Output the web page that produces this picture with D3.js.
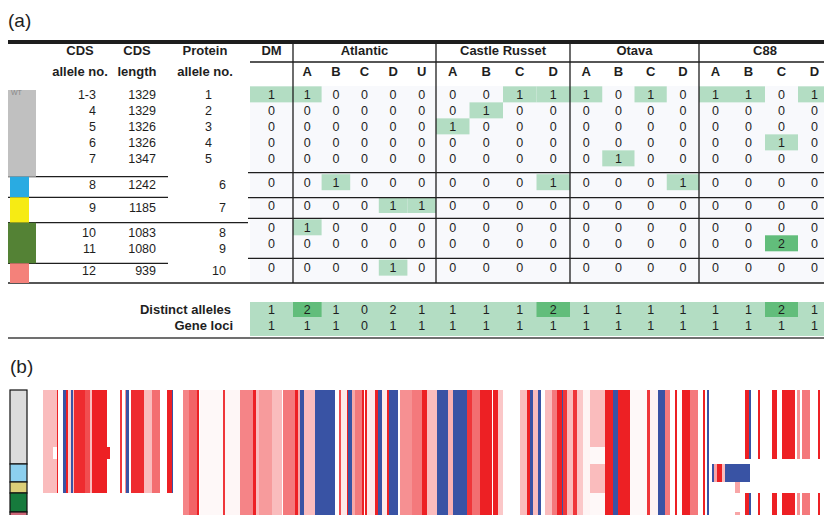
<!DOCTYPE html>
<html>
<head>
<meta charset="utf-8">
<script src="https://cdn.jsdelivr.net/npm/d3@7"></script>
<style>
  body { margin: 0; background: #fff; }
  svg { display: block; font-family: "Liberation Sans", Arial, sans-serif; }
</style>
</head>
<body>
<svg id="chart" width="824" height="515"></svg>
<script>
// ---------- panel (a) data ----------
const cultivars = ["DM", "Atlantic", "Castle Russet", "Otava", "C88"];
const haplotypes = [[""], ["A", "B", "C", "D", "U"], ["A", "B", "C", "D"], ["A", "B", "C", "D"], ["A", "B", "C", "D"]];
const cdsAllele = ["1-3", "4", "5", "6", "7", "8", "9", "10", "11", "12"];
const cdsLength = [1329, 1329, 1326, 1326, 1347, 1242, 1185, 1083, 1080, 939];
const proteinAllele = [1, 2, 3, 4, 5, 6, 7, 8, 9, 10];
const alleleGroup = [0, 0, 0, 0, 0, 1, 2, 3, 3, 4];
const groupColorsA = ["#c0c0c0", "#29abe2", "#f6eb14", "#548235", "#f4817a"];
// allele counts per haplotype column: DM | Atl A B C D U | CR A B C D | Ot A B C D | C88 A B C D
const alleleCounts = [
  [1, 1, 0, 0, 0, 0, 0, 0, 1, 1, 1, 0, 1, 0, 1, 1, 0, 1],
  [0, 0, 0, 0, 0, 0, 0, 1, 0, 0, 0, 0, 0, 0, 0, 0, 0, 0],
  [0, 0, 0, 0, 0, 0, 1, 0, 0, 0, 0, 0, 0, 0, 0, 0, 0, 0],
  [0, 0, 0, 0, 0, 0, 0, 0, 0, 0, 0, 0, 0, 0, 0, 0, 1, 0],
  [0, 0, 0, 0, 0, 0, 0, 0, 0, 0, 0, 1, 0, 0, 0, 0, 0, 0],
  [0, 0, 1, 0, 0, 0, 0, 0, 0, 1, 0, 0, 0, 1, 0, 0, 0, 0],
  [0, 0, 0, 0, 1, 1, 0, 0, 0, 0, 0, 0, 0, 0, 0, 0, 0, 0],
  [0, 1, 0, 0, 0, 0, 0, 0, 0, 0, 0, 0, 0, 0, 0, 0, 0, 0],
  [0, 0, 0, 0, 0, 0, 0, 0, 0, 0, 0, 0, 0, 0, 0, 0, 2, 0],
  [0, 0, 0, 0, 1, 0, 0, 0, 0, 0, 0, 0, 0, 0, 0, 0, 0, 0]
];
const distinctAlleles = [1, 2, 1, 0, 2, 1, 1, 1, 1, 2, 1, 1, 1, 1, 1, 1, 2, 1];
const distinctDark = [0, 1, 0, 0, 0, 0, 0, 0, 0, 1, 0, 0, 0, 0, 0, 0, 1, 0];
const geneLoci = [1, 1, 1, 0, 1, 1, 1, 1, 1, 1, 1, 1, 1, 1, 1, 1, 1, 1];

// ---------- panel (b) data ----------
// alignment sites; stripes are [start, end, value] with value -1 (blue) .. 1 (red)
const siteCount = 391;
const leftRegionEnd = 66;
const rightRegionStart = 340;
const stripes = [
  [0, 7, 0.3], [7, 7.5, 1], [10, 11.5, -1], [11.5, 12.5, 1], [12.5, 14, 0.2], [14, 15, -1],
  [15, 15.5, 0.3], [15.5, 21, 0.95], [21, 23.5, 0.8], [23.5, 24.5, 0.3], [24.5, 32, 1],
  [38.5, 39.5, 0.9], [41, 41.5, 0.5], [41.5, 43, -1], [44, 50.5, 0.95], [50.5, 54.5, 0.3],
  [54.5, 58.5, 0.65], [62, 64.5, 1], [64.5, 65, -1],
  [70, 73, 0.55], [73, 77, 0.7], [77, 78, 1], [78.5, 90, 0.03], [90, 91, 0.9], [91, 98.5, 0.04],
  [98.5, 105, 0.55], [105, 106.5, 1], [106.5, 108, 0.3], [108, 114.5, 0.45], [114.5, 119.5, 0.3],
  [120, 126, 0.6], [126, 127.5, 1], [127.5, 128.5, 0.4], [128.5, 130.5, -1], [130.5, 136, 0.3],
  [136, 146, -1], [148, 149, 0.8], [149, 152, 0.1], [152, 152.5, 1], [152.5, 154.5, -1],
  [154.5, 156, 0.4], [156, 159.5, 0.6], [159.5, 160.5, 1], [161, 162, 1], [162, 166, 0.1],
  [166, 167.5, 1], [167.5, 169.5, -1], [169.5, 172, 0.1], [172, 173, 1], [173, 177.5, -1],
  [178.5, 184.5, 0.5], [184.5, 189.5, 0.6], [189.5, 192, 1], [192, 197, 0.3], [197, 202.5, -1],
  [202.5, 205, 0.35], [205, 212, -1], [212, 214.5, 0.9], [214.5, 218.5, 0.65], [218.5, 224.5, 1],
  [225, 227.5, 1], [227.5, 230, 0.25], [238.5, 242, 0.3], [242, 243.5, 1], [243.5, 245, -1],
  [245, 247.5, 0.3], [247.5, 249, -1], [251, 254.5, 0.3], [254.5, 257, 0.6], [257, 259.5, 1],
  [259.5, 260, -1], [260, 262, 0.9], [262, 265, 0.3], [265, 267, 0.9], [267, 270, 0.25],
  [270, 273.5, 0.05], [273.5, 281, 0.3], [281, 285, 1], [285, 287.5, -1], [287.5, 293.5, 1],
  [293.5, 302, 0.03], [302, 303.5, 0.9], [303.5, 307.5, 0.05], [307.5, 311, -1], [311, 313.5, 0.6],
  [316, 317, 1], [319.5, 323.5, 1], [323.5, 327.5, 0.6], [330, 331, 1], [332, 333, -1],
  [351, 353, 1], [353, 354, -1], [357.5, 358.5, 1], [364.5, 367, 1], [369.5, 376, 1],
  [377, 378.5, 0.5], [379.5, 383.5, 0.6], [387.5, 388.5, 1]
];
// sequence rows: colour group, relative height, whether left / right regions are present
const seqRows = [
  { group: 0, h: 57, left: true, right: true },
  { group: 0, h: 12, left: true, right: true },
  { group: 0, h: 5, left: true, right: false },
  { group: 1, h: 18, left: true, right: false },
  { group: 2, h: 11, left: true, right: false },
  { group: 3, h: 19, left: false, right: true },
  { group: 4, h: 12, left: false, right: true }
];
// row-specific differences: [row, start, end, value]
const rowEdits = [
  [1, 5, 7, 0], [1, 32, 33.5, 1], [1, 273.5, 281, 0.03], [2, 273.5, 281, 0.03],
  [3, 334.5, 335.5, -1], [3, 335.5, 337, 0.4], [3, 337, 339.5, 1], [3, 339.5, 341, 0.3], [3, 341, 353.5, -1],
  [4, 346, 348.5, 0.4], [5, 273.5, 281, 0.03], [6, 273.5, 281, 0.03], [6, 346, 348.5, 0.4]
];
const groupColorsB = ["#dcdcdc", "#8ccfee", "#dccf78", "#167a3c", "#cc6677"];

// ---------- drawing ----------
const svg = d3.select("#chart");
const ink = "#1e1e1e";
const lightGreen = "#b3ddc3";
const darkGreen = "#62bd7b";

// columns of the table
const groupEdges = [250, 293, 436, 570, 699, 831];
const columns = [];
cultivars.forEach((c, g) =>
{
  const band = d3.scaleBand().domain(haplotypes[g]).range([groupEdges[g], groupEdges[g + 1]]);
  haplotypes[g].forEach(h => columns.push({ g, h, x0: band(h), x1: band(h) + band.bandwidth(), cx: band(h) + band.bandwidth() / 2 }));
});

// row positions
const dataEdges = [86, 172.7, 197.7, 218.3, 258.3, 283];
const leftEdges = [86, 176.7, 197.3, 222.7, 263.3, 283];
const lineH = 16;
function rowYs(edges)
{
  const ys = [];
  d3.range(5).forEach(g =>
  {
    const idx = alleleGroup.map((a, i) => a === g ? i : -1).filter(i => i >= 0);
    const mid = (edges[g] + edges[g + 1]) / 2 - 3;
    idx.forEach((r, k) => ys[r] = mid + (k - (idx.length - 1) / 2) * lineH);
  });
  return ys;
}
const dataY = rowYs(dataEdges);
const leftY = rowYs(leftEdges).map((y, i) => alleleGroup[i] === 0 ? dataY[i] : y);

svg.append("text").attr("x", 8).attr("y", 27).style("font-size", "19px").attr("fill", ink).text("(a)");

// data background
svg.append("rect").attr("x", 250).attr("y", 86).attr("width", 574).attr("height", 197).attr("fill", "#f8f9fc");

// highlights
const cells = [];
alleleCounts.forEach((row, r) => row.forEach((v, c) => cells.push({ r, c, v })));
svg.append("g").selectAll("rect")
  .data(cells.filter(d => d.v > 0))
  .enter()
  .append("rect")
  .attr("x", d => columns[d.c].x0)
  .attr("width", d => columns[d.c].x1 - columns[d.c].x0)
  .attr("y", d => dataY[d.r] - 8)
  .attr("height", 16)
  .attr("fill", d => d.v > 1 ? darkGreen : lightGreen);

svg.append("g")
  .style("font-size", "12.5px")
  .attr("fill", ink)
  .attr("text-anchor", "middle")
  .selectAll("text")
  .data(cells)
  .enter()
  .append("text")
  .attr("x", d => columns[d.c].cx)
  .attr("y", d => dataY[d.r])
  .attr("dy", "0.36em")
  .text(d => d.v);

// top rule and header
svg.append("rect").attr("x", 8).attr("y", 40).attr("width", 816).attr("height", 4).attr("fill", ink);

const header = svg.append("g").style("font-size", "13px").style("font-weight", "bold").attr("fill", ink).attr("text-anchor", "middle");
[["CDS", "allele no.", 80], ["CDS", "length", 137], ["Protein", "allele no.", 205]].forEach(([a, b, x]) =>
{
  header.append("text").attr("x", x).attr("y", 50).attr("dy", "0.36em").text(a);
  header.append("text").attr("x", x).attr("y", 71).attr("dy", "0.36em").text(b);
});
cultivars.forEach((c, g) =>
{
  header.append("text").attr("x", (groupEdges[g] + groupEdges[g + 1]) / 2).attr("y", 50).attr("dy", "0.36em").text(c);
});
header.selectAll(".hap")
  .data(columns.filter(d => d.h !== ""))
  .enter()
  .append("text")
  .attr("x", d => d.cx)
  .attr("y", 71)
  .attr("dy", "0.36em")
  .text(d => d.h);

// table rules
const rules = svg.append("g").attr("stroke", ink).attr("stroke-width", 1.3);
rules.append("line").attr("x1", 250).attr("x2", 824).attr("y1", 62).attr("y2", 62);
groupEdges.slice(1, 5).forEach(x => rules.append("line").attr("x1", x).attr("x2", x).attr("y1", 44).attr("y2", 283));
dataEdges.slice(1, 5).forEach(y => rules.append("line").attr("x1", 248).attr("x2", 824).attr("y1", y).attr("y2", y));
leftEdges.slice(1, 5).forEach((y, i) => rules.append("line").attr("x1", 8).attr("x2", i === 2 ? 248 : 168).attr("y1", y).attr("y2", y));
rules.append("line").attr("x1", 8).attr("x2", 824).attr("y1", 283).attr("y2", 283);

// colour strip (a)
d3.range(5).forEach(g =>
{
  const multi = alleleGroup.filter(a => a === g).length > 1;
  const top = g === 0 ? 90 : leftEdges[g];
  svg.append("rect")
    .attr("x", multi ? 8 : 10).attr("width", multi ? 28 : 19)
    .attr("y", top).attr("height", leftEdges[g + 1] - top)
    .attr("fill", groupColorsA[g]);
});
svg.append("text").attr("x", 11).attr("y", 95).style("font-size", "7px").attr("fill", "#888").text("WT");

// left columns
const leftText = svg.append("g").style("font-size", "12.5px").attr("fill", ink).attr("text-anchor", "end");
cdsAllele.forEach((a, i) =>
{
  leftText.append("text").attr("x", 96).attr("y", leftY[i]).attr("dy", "0.36em").text(a);
  leftText.append("text").attr("x", 156).attr("y", leftY[i]).attr("dy", "0.36em").text(cdsLength[i]);
  leftText.append("text").attr("x", alleleGroup[i] === 0 ? 212 : 226).attr("y", alleleGroup[i] === 0 ? dataY[i] : leftY[i]).attr("dy", "0.36em").text(proteinAllele[i]);
});

// summary rows
svg.append("rect").attr("x", 250).attr("y", 302).attr("width", 574).attr("height", 34).attr("fill", lightGreen);
svg.append("g").selectAll("rect")
  .data(columns.filter((d, i) => distinctDark[i]))
  .enter()
  .append("rect")
  .attr("x", d => d.x0).attr("width", d => d.x1 - d.x0)
  .attr("y", 302).attr("height", 15)
  .attr("fill", darkGreen);
const summary = svg.append("g").style("font-size", "12.5px").attr("fill", ink).attr("text-anchor", "middle");
columns.forEach((col, i) =>
{
  summary.append("text").attr("x", col.cx).attr("y", 309).attr("dy", "0.36em").text(distinctAlleles[i]);
  summary.append("text").attr("x", col.cx).attr("y", 325).attr("dy", "0.36em").text(geneLoci[i]);
});
const sumLabels = svg.append("g").style("font-size", "13px").style("font-weight", "bold").attr("fill", ink).attr("text-anchor", "end");
sumLabels.append("text").attr("x", 231).attr("y", 309).attr("dy", "0.36em").text("Distinct alleles");
sumLabels.append("text").attr("x", 233).attr("y", 325).attr("dy", "0.36em").text("Gene loci");
svg.append("line").attr("x1", 8).attr("x2", 824).attr("y1", 338).attr("y2", 338).attr("stroke", "#707070").attr("stroke-width", 2);

// ---------- panel (b) ----------
svg.append("text").attr("x", 10).attr("y", 373).style("font-size", "19px").attr("fill", ink).text("(b)");

const x = d3.scaleLinear().domain([0, siteCount]).range([43, 825]);
const totalH = d3.sum(seqRows, d => d.h);
const y = d3.scaleLinear().domain([0, totalH]).range([390, 390 + totalH]);
const color = d3.scaleLinear().domain([-1, 0, 1]).range(["#3953a4", "#ffffff", "#ed2024"]);

let acc = 0;
seqRows.forEach(row => { row.y0 = acc; acc += row.h; row.y1 = acc; });

const heat = svg.append("g");
seqRows.forEach((row, r) =>
{
  const visible = stripes.filter(s =>
    (s[1] <= leftRegionEnd ? row.left : true) && (s[0] >= rightRegionStart ? row.right : true));
  heat.append("g").selectAll("rect")
    .data(visible)
    .enter()
    .append("rect")
    .attr("x", s => x(s[0]))
    .attr("width", s => x(s[1]) - x(s[0]))
    .attr("y", y(row.y0))
    .attr("height", y(row.y1) - y(row.y0))
    .attr("fill", s => color(s[2]));
});
heat.append("g").selectAll("rect")
  .data(rowEdits)
  .enter()
  .append("rect")
  .attr("x", e => x(e[1]))
  .attr("width", e => x(e[2]) - x(e[1]))
  .attr("y", e => y(seqRows[e[0]].y0))
  .attr("height", e => y(seqRows[e[0]].y1) - y(seqRows[e[0]].y0))
  .attr("fill", e => color(e[3]));

// colour strip (b)
d3.range(5).forEach(g =>
{
  const rows = seqRows.filter(d => d.group === g);
  const top = d3.min(rows, d => d.y0), bottom = d3.max(rows, d => d.y1);
  svg.append("rect")
    .attr("x", 10).attr("width", 17)
    .attr("y", y(top)).attr("height", y(bottom) - y(top))
    .attr("fill", groupColorsB[g])
    .attr("stroke", "#111").attr("stroke-width", 1.2);
});
</script>
</body>
</html>
